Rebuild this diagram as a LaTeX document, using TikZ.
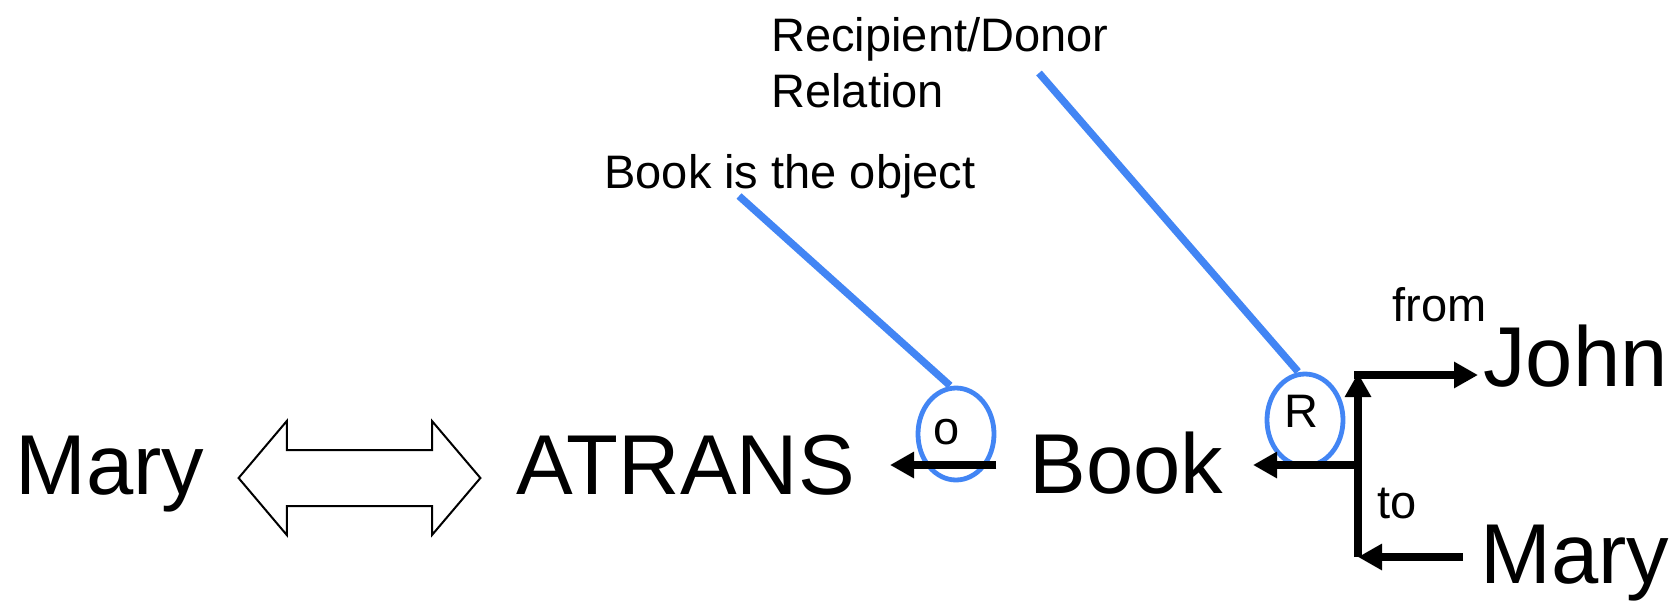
\documentclass[tikz,border=0pt]{standalone}
\usepackage{fontspec}
\setmainfont{Liberation Sans}
\usetikzlibrary{arrows.meta,shapes.geometric}
\definecolor{cblue}{RGB}{66,133,244}
\begin{document}
\begin{tikzpicture}[x=0.5pt,y=-0.5pt,
  big/.style={font=\fontsize{42.5}{51}\selectfont, inner sep=0, anchor=base west},
  small/.style={font=\fontsize{23.5}{29}\selectfont, inner sep=0, anchor=base west},
  lab/.style={font=\fontsize{23.5}{29}\selectfont, inner sep=0},
  conn/.style={line width=3.75pt, -{Triangle[length=12pt,width=12.5pt]}},
  callout/.style={draw=cblue, line width=3.7pt},
  ring/.style={ellipse, draw=cblue, line width=2.4pt, minimum width=38pt, minimum height=46pt, inner sep=0},
  bigarrow/.style={draw, line width=1pt, line join=miter, fill=white}]
\path[use as bounding box] (0,0) rectangle (1672,606);
% texts
\node[big] (mary1) at (15,494) {Mary};
\node[big] (atrans) at (516,494) {ATRANS};
\node[big] (book) at (1029,493) {Book};
\node[big] (john) at (1483,386) {John};
\node[big] (mary2) at (1480,583) {Mary};
\node[small] (rd1) at (771,51) {Recipient/Donor};
\node[small] (rd2) at (771,107) {Relation};
\node[small] (obj) at (604,188) {Book is the object};
\node[small] (from) at (1392,321) {from};
\node[small] (to) at (1377,518) {to};
% rings
\node[ring] (oc) at (956,434) {};
\node[ring] (rc) at (1305,420) {};
\node[lab] (olab) at (947,432) {o};
\node[lab] (rlab) at (1301,411) {R};
% double arrow between Mary and ATRANS
\draw[bigarrow] (238.6,478) -- (286.8,421) -- (286.8,450) -- (432,450) -- (432,421)
  -- (480.4,478) -- (432,535) -- (432,506) -- (286.8,506) -- (286.8,535) -- cycle;
% branch coordinates
\coordinate (br) at (1358,465);
\coordinate (tc) at (1358,373);
\coordinate (bc) at (1358,557);
\coordinate (hstart) at (1354,375);
\coordinate (jtip) at (1478,375);
\coordinate (mstart) at (1463,557);
\coordinate (btip) at (1253,465);
\coordinate (otip) at (890,465);
% connectors
\draw[conn] (oc.east |- otip) -- (otip);
\draw[conn] (br) -- (btip);
\draw[conn] (bc) -- (tc);
\draw[conn] (hstart) -- (jtip);
\draw[conn] (mstart) -- (bc);
% callouts
\coordinate (ca) at (739,196);
\coordinate (cb) at (1039,73);
\draw[callout] (ca) -- ([xshift=-3pt]oc.north);
\draw[callout] (cb) -- ([xshift=-3.5pt]rc.north);
\end{tikzpicture}
\end{document}
